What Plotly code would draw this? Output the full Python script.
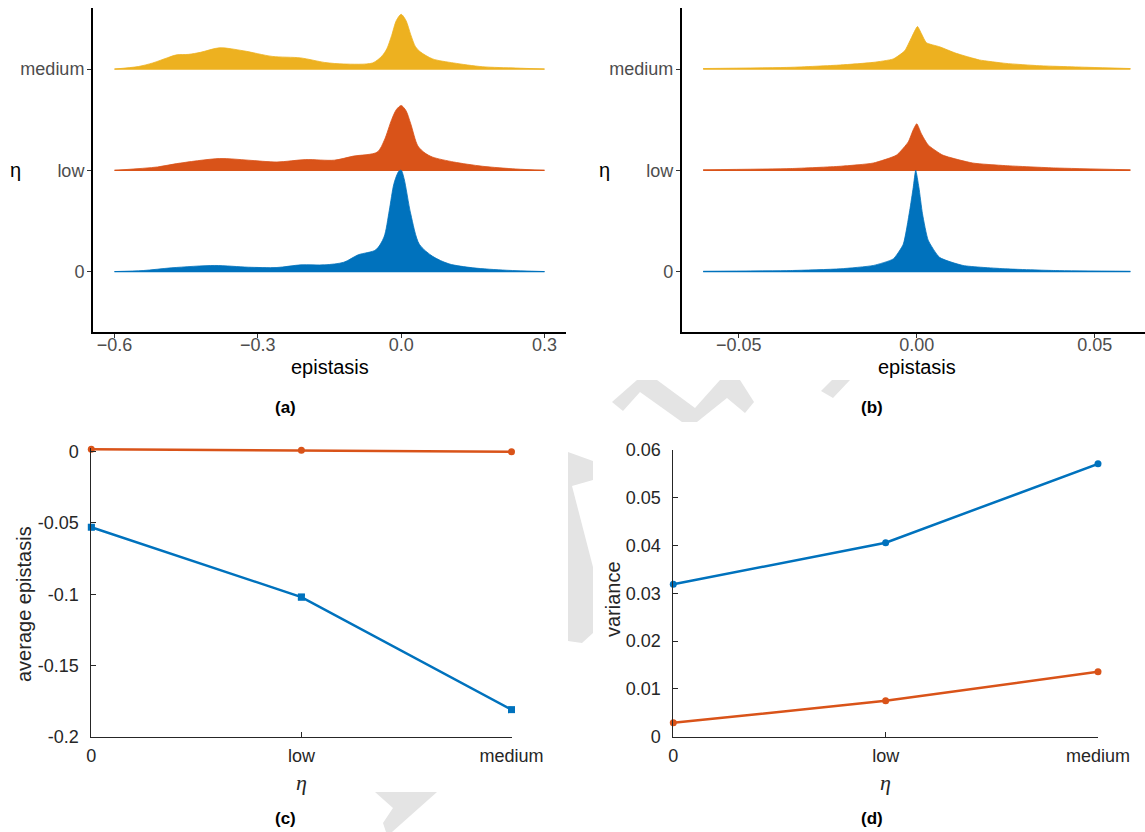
import plotly.graph_objects as go

W, H = 1145, 832
BLUE, ORANGE, YELLOW = "#0072BD", "#D95319", "#EDB120"

# ---------------- data ----------------
ETA_LEVELS = ["0", "low", "medium"]

# panel (a): scaled ridge densities (1 unit = spacing between ridges)
a_x_medium = [-0.60, -0.55, -0.52, -0.49, -0.47, -0.445, -0.42, -0.38, -0.33, -0.27, -0.21, -0.16, -0.12,
              -0.06, -0.04, -0.03, -0.02, -0.01, 0.0, 0.01, 0.02, 0.03, 0.04, 0.066, 0.11, 0.17, 0.24, 0.30]
a_h_medium = [0.0, 0.025, 0.06, 0.11, 0.14, 0.145, 0.165, 0.21, 0.18, 0.125, 0.11, 0.065, 0.05,
              0.06, 0.13, 0.20, 0.33, 0.48, 0.54, 0.48, 0.34, 0.22, 0.17, 0.10, 0.06, 0.023, 0.01, 0.0]
a_x_low = [-0.60, -0.51, -0.47, -0.38, -0.32, -0.26, -0.20, -0.14, -0.10, -0.05, -0.035, -0.02, -0.01,
           0.0, 0.01, 0.02, 0.035, 0.05, 0.066, 0.11, 0.17, 0.24, 0.30]
a_h_low = [0.0, 0.033, 0.066, 0.116, 0.10, 0.082, 0.106, 0.10, 0.14, 0.18, 0.30, 0.50, 0.60,
           0.64, 0.59, 0.46, 0.24, 0.17, 0.13, 0.082, 0.04, 0.013, 0.0]
a_x_zero = [-0.60, -0.54, -0.48, -0.39, -0.32, -0.26, -0.21, -0.16, -0.12, -0.09, -0.053, -0.036, -0.025,
            -0.015, -0.005, 0.0, 0.006, 0.02, 0.038, 0.066, 0.10, 0.15, 0.22, 0.30]
a_h_zero = [0.0, 0.01, 0.037, 0.06, 0.043, 0.04, 0.066, 0.066, 0.092, 0.165, 0.215, 0.34, 0.60,
            0.87, 0.99, 1.0, 0.92, 0.57, 0.27, 0.15, 0.076, 0.037, 0.013, 0.0]

# panel (b)
b_x_medium = [-0.060, -0.0355, -0.0215, -0.0122, -0.0066, -0.0034, -0.0015, 0.0002, 0.0013, 0.0027,
              0.0064, 0.0111, 0.0176, 0.025, 0.0344, 0.0483, 0.060]
b_h_medium = [0.005, 0.017, 0.04, 0.066, 0.10, 0.18, 0.31, 0.42, 0.35, 0.26,
              0.22, 0.155, 0.09, 0.056, 0.033, 0.017, 0.005]
b_x_low = [-0.060, -0.0355, -0.0215, -0.0122, -0.0057, -0.0024, -0.001, 0.0, 0.0013, 0.0032,
           0.0073, 0.0157, 0.025, 0.039, 0.060]
b_h_low = [0.005, 0.017, 0.04, 0.072, 0.15, 0.28, 0.40, 0.46, 0.36, 0.25,
           0.15, 0.072, 0.046, 0.023, 0.005]
b_x_zero = [-0.060, -0.0355, -0.0215, -0.0122, -0.0066, -0.0038, -0.002, -0.001, -0.0003, 0.0006,
            0.0016, 0.0032, 0.0064, 0.013, 0.025, 0.039, 0.060]
b_h_zero = [0.003, 0.01, 0.027, 0.06, 0.125, 0.27, 0.60, 0.83, 1.0, 0.83,
            0.57, 0.31, 0.14, 0.06, 0.027, 0.01, 0.003]

# panel (c): average epistasis
c_blue = [-0.053, -0.102, -0.181]
c_blue_err = [0.0012, 0.0015, 0.0012]
c_orange = [0.0017, 0.001, 0.0]

# panel (d): variance
d_blue = [0.0319, 0.0406, 0.0571]
d_orange = [0.0029, 0.0075, 0.0136]

# ---------------- helpers ----------------
def px(x):
    return x / W

def py(y):
    return 1 - y / H

fig = go.Figure()

def ridges(xa, ya, sets, smooth):
    for off, xs, hs, col in sets:
        fig.add_trace(go.Scatter(x=xs, y=[off] * len(xs), mode="lines",
                                 line=dict(color=col, width=1.2), xaxis=xa, yaxis=ya,
                                 showlegend=False, hoverinfo="skip"))
        fig.add_trace(go.Scatter(x=xs, y=[off + h for h in hs], mode="lines", fill="tonexty",
                                 fillcolor=col, line=dict(color=col, width=0.8, shape="spline",
                                                          smoothing=smooth),
                                 xaxis=xa, yaxis=ya, showlegend=False, hoverinfo="skip"))

ridges("x", "y", [(2, a_x_medium, a_h_medium, YELLOW), (1, a_x_low, a_h_low, ORANGE),
                  (0, a_x_zero, a_h_zero, BLUE)], 0.8)
ridges("x2", "y2", [(2, b_x_medium, b_h_medium, YELLOW), (1, b_x_low, b_h_low, ORANGE),
                    (0, b_x_zero, b_h_zero, BLUE)], 0.5)

xi = [0, 1, 2]
fig.add_trace(go.Scatter(x=xi, y=c_orange, mode="lines+markers", line=dict(color=ORANGE, width=2.5),
                         marker=dict(size=7, color=ORANGE), xaxis="x3", yaxis="y3",
                         cliponaxis=False, showlegend=False))
fig.add_trace(go.Scatter(x=xi, y=c_blue, mode="lines+markers", line=dict(color=BLUE, width=2.5),
                         marker=dict(size=7, color=BLUE, symbol="square"),
                         error_y=dict(type="data", array=c_blue_err, color=BLUE, thickness=2.5, width=3.5),
                         xaxis="x3", yaxis="y3", cliponaxis=False, showlegend=False))
fig.add_trace(go.Scatter(x=xi, y=d_blue, mode="lines+markers", line=dict(color=BLUE, width=2.5),
                         marker=dict(size=7, color=BLUE), xaxis="x4", yaxis="y4",
                         cliponaxis=False, showlegend=False))
fig.add_trace(go.Scatter(x=xi, y=d_orange, mode="lines+markers", line=dict(color=ORANGE, width=2.5),
                         marker=dict(size=7, color=ORANGE), xaxis="x4", yaxis="y4",
                         cliponaxis=False, showlegend=False))

FONT = "Liberation Sans, Arial, sans-serif"
gg_x = dict(showline=True, linecolor="black", linewidth=2, ticks="outside", ticklen=4,
            tickcolor="#333333", tickwidth=1, showgrid=False, zeroline=False, automargin=False,
            tickfont=dict(size=18, color="#4D4D4D", family=FONT), ticklabelstandoff=-9)
gg_y = dict(gg_x, tickvals=[0, 1, 2], ticktext=ETA_LEVELS, range=[-0.6, 2.6], ticklabelstandoff=-1)
ml = dict(showline=True, linecolor="#262626", linewidth=1, ticks="inside", ticklen=5,
          tickcolor="#262626", tickwidth=1, showgrid=False, zeroline=False, automargin=False,
          tickfont=dict(size=18, color="#262626", family=FONT))

fig.update_layout(
    template="none",
    width=W, height=H, margin=dict(l=0, r=0, t=0, b=0, pad=0), autosize=False,
    paper_bgcolor="white", plot_bgcolor="white", font=dict(family=FONT),
    xaxis=dict(gg_x, domain=[px(93), px(566)], range=[-0.645, 0.345], anchor="y",
               tickvals=[-0.6, -0.3, 0.0, 0.3], ticktext=["\u22120.6", "\u22120.3", "0.0", "0.3"]),
    yaxis=dict(gg_y, domain=[py(332.3), py(8.3)], anchor="x"),
    xaxis2=dict(gg_x, domain=[px(681.8), 1.0], range=[-0.066, 0.0641], anchor="y2",
                tickvals=[-0.05, 0.0, 0.05], ticktext=["\u22120.05", "0.00", "0.05"]),
    yaxis2=dict(gg_y, domain=[py(332.3), py(8.3)], anchor="x2"),
    xaxis3=dict(ml, domain=[px(91.3), px(511.5)], range=[0, 2], anchor="y3",
                tickvals=xi, ticktext=ETA_LEVELS, ticklabelstandoff=3),
    yaxis3=dict(ml, domain=[py(736.7), py(448)], range=[-0.2, 0.0026], anchor="x3",
                tickvals=[0, -0.05, -0.1, -0.15, -0.2], ticktext=["0", "-0.05", "-0.1", "-0.15", "-0.2"],
                ticklabelstandoff=8),
    xaxis4=dict(ml, domain=[px(673.3), px(1098)], range=[0, 2], anchor="y4",
                tickvals=xi, ticktext=ETA_LEVELS, ticklabelstandoff=3),
    yaxis4=dict(ml, domain=[py(736.7), py(450)], range=[0, 0.06], anchor="x4",
                tickvals=[0, 0.01, 0.02, 0.03, 0.04, 0.05, 0.06],
                ticktext=["0", "0.01", "0.02", "0.03", "0.04", "0.05", "0.06"],
                ticklabelstandoff=8),
)

def label(text, x, y, size=20, color="black", angle=0, family=FONT):
    fig.add_annotation(text=text, x=px(x), y=py(y), xref="paper", yref="paper", showarrow=False,
                       xanchor="center", yanchor="middle", textangle=angle,
                       font=dict(size=size, color=color, family=family))

label("epistasis", 330, 367)
label("epistasis", 917, 367)
label("\u03b7", 15, 170)
label("\u03b7", 604, 170)
label("average epistasis", 24, 604, size=20, color="#262626", angle=-90)
label("variance", 613, 599, size=20, color="#262626", angle=-90)
label("<i>\u03b7</i>", 301, 782, size=22, color="#262626", family="Liberation Serif, serif")
label("<i>\u03b7</i>", 885, 782, size=22, color="#262626", family="Liberation Serif, serif")
for t, x, y in [("(a)", 285, 407), ("(b)", 872.5, 407), ("(c)", 285, 818), ("(d)", 872.5, 818)]:
    label("<b>" + t + "</b>", x, y, size=17)

# light watermark fragments visible between panels
def path(pts):
    s = "M " + " L ".join(f"{px(a):.5f},{py(b):.5f}" for a, b in pts) + " Z"
    return s

wm = [
    [(612, 402), (637, 380), (657, 380), (695, 408), (720, 380), (740, 380), (754, 402), (745, 413),
     (727, 398), (697, 422), (682, 422), (640, 392), (623, 411)],
    [(832, 380), (850, 380), (833, 398), (821, 391)],
    [(568, 452), (593, 461), (593, 480), (572, 486), (593, 567), (593, 633), (582, 643), (568, 641)],
    [(375, 792), (437, 792), (392, 832), (386, 832), (383, 823), (393, 808)],
]
for poly in wm:
    fig.add_shape(type="path", path=path(poly), xref="paper", yref="paper",
                  fillcolor="#E4E4E4", line=dict(width=0), layer="below")

fig.write_html("out.html")
